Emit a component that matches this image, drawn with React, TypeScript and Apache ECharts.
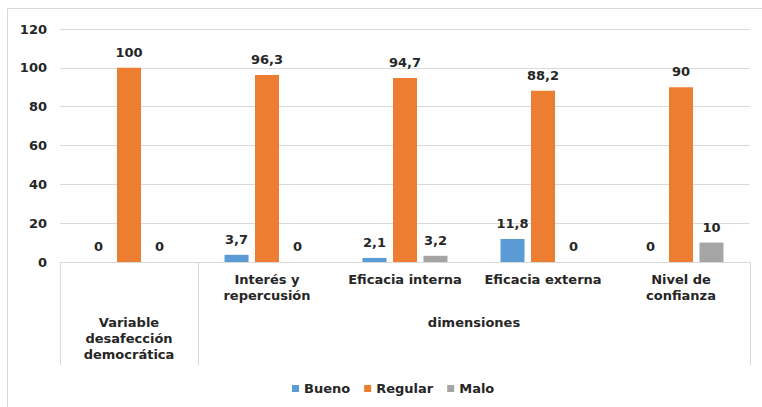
import React, { useEffect, useRef } from "react";
import * as echarts from "echarts";

const categories = ["", "Interés y\nrepercusión", "Eficacia interna", "Eficacia externa", "Nivel de\nconfianza"];
const groupLabels = ["Variable\ndesafección\ndemocrática", "dimensiones"];
const bueno = [0, 3.7, 2.1, 11.8, 0];
const regular = [100, 96.3, 94.7, 88.2, 90];
const malo = [0, 0, 3.2, 0, 10];
const seriesNames = ["Bueno", "Regular", "Malo"];
const colors = ["#5B9BD5", "#ED7D31", "#A5A5A5"];

const FONT = "DejaVu Sans";
const TXT = "#262626";
const FS = 13;

export default function App() {
  const ref = useRef<HTMLDivElement>(null);
  useEffect(() => {
    if (!ref.current) return;
    const chart = echarts.init(ref.current, null, { renderer: "svg" });
    const fmt = (p: any) => String(p.value).replace(".", ",");
    const mk = (name: string, data: number[], color: string) => ({
      name,
      type: "bar",
      data,
      barWidth: 24,
      barGap: "27%",
      itemStyle: { color },
      label: {
        show: true,
        position: "top",
        distance: 9,
        formatter: fmt,
        fontFamily: FONT,
        fontWeight: "bold",
        fontSize: FS,
        color: TXT,
      },
    });
    chart.setOption({
      animation: false,
      color: colors,
      graphic: [
        {
          type: "rect",
          shape: { x: 7.5, y: 8.5, width: 900, height: 600 },
          style: { fill: "none", stroke: "#d9d9d9", lineWidth: 1 },
          silent: true,
          z: -10,
        },
      ],
      grid: { left: 60, right: 12, top: 29, bottom: 145, containLabel: false },
      legend: {
        top: 377,
        left: 287,
        icon: "rect",
        itemWidth: 7,
        itemHeight: 7,
        itemGap: 14,
        data: seriesNames,
        textStyle: { fontFamily: FONT, fontWeight: "bold", fontSize: FS, color: TXT },
      },
      xAxis: [
        {
          type: "category",
          data: categories,
          axisLine: { show: true, lineStyle: { color: "#d9d9d9" } },
          axisTick: { show: false },
          axisLabel: {
            interval: 0,
            margin: 9,
            verticalAlign: "top",
            lineHeight: 16,
            fontFamily: FONT,
            fontWeight: "bold",
            fontSize: FS,
            color: TXT,
          },
        },
        {
          type: "value",
          position: "bottom",
          min: 0,
          max: 5,
          axisLine: { show: false },
          splitLine: { show: false },
          axisTick: {
            show: true,
            customValues: [0, 1, 5],
            length: 103,
            lineStyle: { color: "#d9d9d9" },
          },
          axisLabel: {
            show: true,
            customValues: [0.5, 3],
            formatter: (v: number) => (v < 1 ? groupLabels[0] : groupLabels[1]),
            margin: 52,
            verticalAlign: "top",
            lineHeight: 16,
            fontFamily: FONT,
            fontWeight: "bold",
            fontSize: FS,
            color: TXT,
          },
        },
      ],
      yAxis: {
        type: "value",
        min: 0,
        max: 120,
        interval: 20,
        axisLine: { show: false },
        axisTick: { show: false },
        splitLine: { lineStyle: { color: "#d9d9d9" } },
        axisLabel: {
          margin: 13,
          fontFamily: FONT,
          fontWeight: "bold",
          fontSize: FS,
          color: TXT,
        },
      },
      series: [
        mk(seriesNames[0], bueno, colors[0]),
        mk(seriesNames[1], regular, colors[1]),
        mk(seriesNames[2], malo, colors[2]),
      ],
    });
    return () => chart.dispose();
  }, []);
  return (
    <div
      ref={ref}
      style={{ position: "fixed", left: 0, top: 0, width: 762, height: 407, background: "#fff" }}
    />
  );
}
